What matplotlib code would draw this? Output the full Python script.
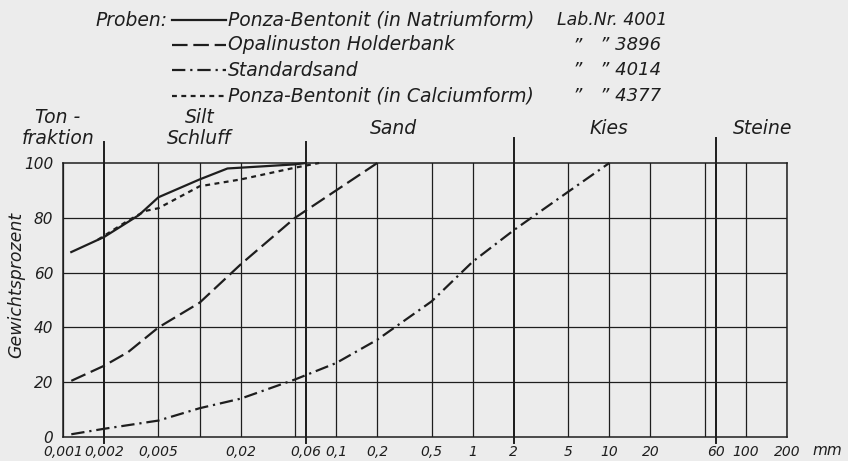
import matplotlib
matplotlib.use("Agg")
import matplotlib.pyplot as plt
from matplotlib.lines import Line2D

# grain size (mm) / weight percent passing
natrium_d = [0.00115, 0.002, 0.0036, 0.005, 0.01, 0.016, 0.05, 0.06]
natrium_p = [67.5, 73, 81, 87.5, 94, 98, 99.5, 100]

opal_d = [0.00115, 0.002, 0.003, 0.005, 0.01, 0.02, 0.05, 0.1, 0.2]
opal_p = [20.5, 26, 31, 40, 49, 63, 80, 90, 100]

std_d = [0.00115, 0.002, 0.005, 0.01, 0.02, 0.05, 0.1, 0.2, 0.5, 1, 2, 5, 10]
std_p = [1, 3, 6, 10.5, 14, 21, 27, 35.5, 49.5, 64, 75.5, 89.5, 100]

calcium_d = [0.0018, 0.003, 0.004, 0.005, 0.01, 0.02, 0.05, 0.075]
calcium_p = [72, 79, 82.5, 83.5, 91.5, 94, 98.3, 100]

grid_x = [0.001, 0.002, 0.005, 0.01, 0.02, 0.05, 0.06, 0.1, 0.2, 0.5,
          1, 2, 5, 10, 20, 50, 60, 100, 200]
tick_x = [0.001, 0.002, 0.005, 0.02, 0.06, 0.1, 0.2, 0.5,
          1, 2, 5, 10, 20, 60, 100, 200]
tick_labels = ["0,001", "0,002", "0,005", "0,02", "0,06", "0,1", "0,2", "0,5",
               "1", "2", "5", "10", "20", "60", "100", "200"]
boundaries = [0.002, 0.06, 2, 60]

fractions = ["Ton -\nfraktion", "Silt\nSchluff", "Sand", "Kies", "Steine"]
fraction_x = [0.00092, 0.01, 0.262, 10, 133]

samples = ["Ponza-Bentonit (in Natriumform)", "Opalinuston Holderbank",
           "Standardsand", "Ponza-Bentonit (in Calciumform)"]
lab_nr = ["4001", "3896", "4014", "4377"]

INK = "#1e1e1e"
BG = "#ececec"
FONT = dict(family="DejaVu Sans", style="italic", color=INK)

styles = [
    dict(linestyle="-"),
    dict(linestyle=(0, (7, 2.6))),
    dict(linestyle=(0, (6, 2.2, 1, 2.2))),
    dict(linestyle=(0, (2.2, 2.0))),
]

fig = plt.figure(figsize=(8.48, 4.61), dpi=100, facecolor=BG)
ax = fig.add_axes([63 / 848, 1 - 437 / 461, 724 / 848, 274 / 461])
ax.set_facecolor(BG)
ax.set_xscale("log")
ax.set_xlim(0.001, 200)
ax.set_ylim(0, 100)

for x in grid_x:
    lw = 1.4 if x in boundaries else 0.9
    ax.axvline(x, color=INK, lw=lw, zorder=1)
for y in range(20, 100, 20):
    ax.axhline(y, color=INK, lw=0.9, zorder=1)

# fraction boundaries reach above and below the frame
for x in boundaries:
    top = 107.5 if x < 1 else 109
    ax.plot([x, x], [-2.2, top], color=INK, lw=1.4, clip_on=False, zorder=1)

series = [(natrium_d, natrium_p), (opal_d, opal_p),
          (std_d, std_p), (calcium_d, calcium_p)]
for (d, p), st in zip(series, styles):
    ax.plot(d, p, color=INK, lw=1.6, zorder=3, clip_on=False, **st)

for s in ax.spines.values():
    s.set_color(INK)
    s.set_linewidth(1.1)

ax.minorticks_off()
ax.set_xticks(tick_x)
ax.set_xticklabels(tick_labels)
ax.set_yticks(range(0, 101, 20))
ax.tick_params(axis="x", length=0, pad=6, labelsize=10)
ax.tick_params(axis="y", length=0, pad=7, labelsize=11)
for lbl in ax.get_xticklabels() + ax.get_yticklabels():
    lbl.set_fontstyle("italic")
    lbl.set_color(INK)
ax.text((812 - 63) / 724, -6 / 274, "mm", transform=ax.transAxes,
        ha="left", va="top", fontsize=11, **FONT)

ax.set_ylabel("Gewichtsprozent", fontsize=12.5, **FONT)
ax.yaxis.set_label_coords((25 - 63) / 724, (437 - 285) / 274)

for name, x in zip(fractions, fraction_x):
    y = 1.055 if "\n" in name else 1.09
    ax.text(x, y, name, transform=ax.get_xaxis_transform(), ha="center",
            va="bottom", fontsize=13.5, linespacing=1.15, **FONT)

# legend block
fig.text(95 / 848, 1 - 20 / 461, "Proben:", ha="left", va="center",
         fontsize=13.5, **FONT)
rows_y = [20, 45, 70, 96]
for i, (name, nr, st) in enumerate(zip(samples, lab_nr, styles)):
    yy = 1 - rows_y[i] / 461
    fig.add_artist(Line2D([172 / 848, 226 / 848], [yy, yy], color=INK,
                          lw=1.6, transform=fig.transFigure, **st))
    fig.text(228 / 848, yy, name, ha="left", va="center", fontsize=13.5, **FONT)
    if i == 0:
        fig.text(557 / 848, yy, "Lab.Nr. " + nr, ha="left", va="center",
                 fontsize=12.5, **FONT)
    else:
        fig.text(573 / 848, yy, "\u201d", ha="left", va="center",
                 fontsize=13, **FONT)
        fig.text(600 / 848, yy, "\u201d " + nr, ha="left", va="center",
                 fontsize=13, **FONT)

fig.savefig("out.png", dpi=100, facecolor=BG)
